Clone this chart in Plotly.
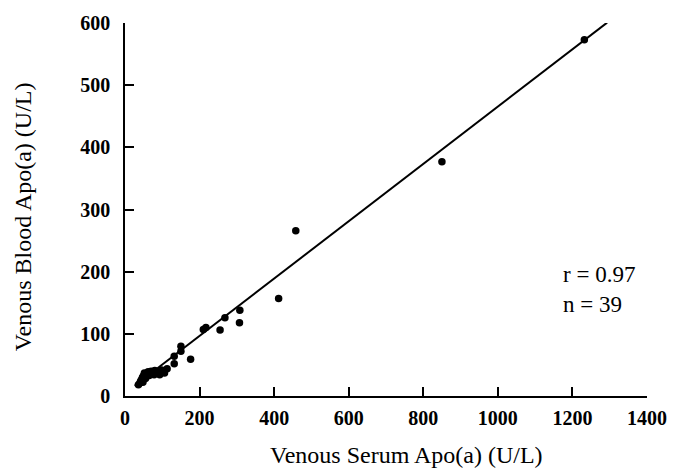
import plotly.graph_objects as go

# Data
serum = [1232, 850, 458, 412, 308, 307, 268, 255, 217, 210, 150, 150, 176, 132, 132, 113, 106,
         36, 40, 42, 45, 47, 48, 50, 52, 55, 57, 60, 62, 65, 68, 70, 74, 78, 80, 84, 88, 93, 98]
blood = [573, 377, 266, 157, 138, 118, 126, 106, 110, 107, 80, 72, 59, 64, 52, 44, 37,
         18, 21, 24, 27, 30, 22, 33, 37, 28, 31, 35, 39, 33, 36, 40, 38, 34, 41, 39, 37, 34, 42]

fit_slope = 0.461
fit_intercept = 4.5
fit_x = [26, 1293]
fit_y = [fit_intercept + fit_slope * v for v in fit_x]

x_ticks = [0, 200, 400, 600, 800, 1000, 1200, 1400]
y_ticks = [0, 100, 200, 300, 400, 500, 600]

x_title = "Venous Serum Apo(a) (U/L)"
y_title = "Venous Blood Apo(a) (U/L)"
stats_text = "r = 0.97<br>n = 39"

font_family = "Liberation Serif, Times New Roman, serif"

fig = go.Figure()
fig.add_trace(go.Scatter(x=fit_x, y=fit_y, mode="lines",
                         line=dict(color="black", width=2), showlegend=False,
                         hoverinfo="skip"))
fig.add_trace(go.Scatter(x=serum, y=blood, mode="markers",
                         marker=dict(color="black", size=7.5), showlegend=False))

fig.add_annotation(x=1168, y=172, xref="x", yref="y", text=stats_text,
                   showarrow=False, xanchor="left", yanchor="middle", align="left",
                   font=dict(family=font_family, size=23, color="black"))

# axis titles
fig.add_annotation(x=0.54, y=455, xref="paper", yref="paper", text=x_title,
                   showarrow=False, xanchor="center", yanchor="middle",
                   font=dict(family=font_family, size=24, color="black"))
fig.add_annotation(x=0.48, y=0.48, xref="paper", yref="paper", text=y_title,
                   showarrow=False, xanchor="center", yanchor="middle", textangle=-90,
                   font=dict(family=font_family, size=24, color="black"))

axis_common = dict(showgrid=False, zeroline=False, showline=True, linecolor="black",
                   linewidth=1.6, ticks="inside", ticklen=9, tickwidth=1.6,
                   tickcolor="black", mirror=False,
                   tickfont=dict(family=font_family, size=20, color="black", weight="bold"))

fig.update_xaxes(range=[0, 1400], tickvals=x_ticks, ticktext=[str(v) for v in x_ticks],
                 ticklabelstandoff=3, **axis_common)
fig.update_yaxes(range=[0, 600], tickvals=y_ticks, ticktext=[str(v) for v in y_ticks],
                 ticklabelstandoff=9, **axis_common)

# position titles in pixel space
fig.layout.annotations[1].update(y=-(455 - 396) / 376)
fig.layout.annotations[2].update(x=-(125 - 22) / 528)

fig.update_layout(width=679, height=474, margin=dict(l=125, r=26, t=20, b=78),
                  plot_bgcolor="white", paper_bgcolor="white")

fig.write_html("out.html")
